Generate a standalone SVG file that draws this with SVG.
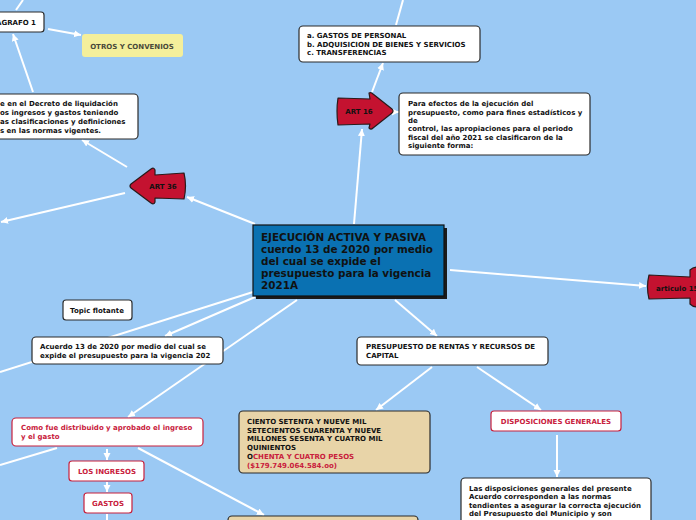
<svg xmlns="http://www.w3.org/2000/svg" width="696" height="520" viewBox="0 0 696 520">
<defs>
<marker id="ah" markerUnits="userSpaceOnUse" markerWidth="8" markerHeight="8" refX="7" refY="4" orient="auto"><path d="M0,0.5 L7,4 L0,7.5 z" fill="#fff"/></marker>
<style>
.c{stroke:#fff;stroke-width:2;fill:none}
.a{marker-end:url(#ah)}
.box{fill:#fff;stroke:#2b2b2b;stroke-width:1.2}
.rbox{fill:#fff;stroke:#c8203c;stroke-width:1.2}
.tan{fill:#e8d4a8;stroke:#2b2b2b;stroke-width:1.2}
.sh{fill:#555;opacity:0.5}
text{font-family:"DejaVu Sans","Verdana",sans-serif;font-weight:bold;font-size:7px;fill:#111}
.red{fill:#c8203c}
.arr{fill:#c41230;stroke:#2a1a1a;stroke-width:1.2;stroke-linejoin:round}
</style>
</defs>
<rect width="696" height="520" fill="#9bc9f4"/>
<g id="connectors">
<path class="c a" d="M255,224 L187,197"/>
<path class="c" d="M253,292 L0,372"/>
<path class="c a" d="M255,297 L165,336"/>
<path class="c a" d="M297,300 L128,417"/>
<path class="c a" d="M395,300 L437,336"/>
<path class="c a" d="M450,270 L646,286"/>
<path class="c a" d="M354,224 L362,129"/>
<path class="c a" d="M372,92 L383,63"/>
<path class="c" d="M396,25 L403,0"/>
<path class="c a" d="M393,112 L399,112"/>
<path class="c a" d="M127,167 L82,140"/>
<path class="c a" d="M125,193 L1,222"/>
<path class="c a" d="M33,92 L13,34"/>
<path class="c" d="M16,10 L23,0"/>
<path class="c a" d="M48,29 L81,35"/>
<path class="c" d="M57,448 L0,465"/>
<path class="c a" d="M107,449 L107,460"/>
<path class="c a" d="M107,482 L107,492"/>
<path class="c" d="M107,514 L107,520"/>
<path class="c a" d="M138,448 L264,515"/>
<path class="c a" d="M432,367 L376,410"/>
<path class="c a" d="M477,367 L541,410"/>
<path class="c a" d="M557,435 L557,477"/>
</g>
<g id="central">
<rect x="256" y="228" width="191" height="71" fill="#1a1a1a"/>
<rect x="253" y="225" width="191" height="71" fill="#0a71b2" stroke="#111" stroke-width="1.2"/>
<text x="261" y="241" style="font-size:10.4px">EJECUCIÓN ACTIVA Y PASIVA</text>
<text x="261" y="253" style="font-size:10.4px">cuerdo 13 de 2020 por medio</text>
<text x="261" y="265" style="font-size:10.4px">del cual se expide el</text>
<text x="261" y="277" style="font-size:10.4px">presupuesto para la vigencia</text>
<text x="261" y="289" style="font-size:10.4px">2021A</text>
</g>
<g id="paragrafo1">
<rect x="-10" y="12" width="54" height="20" rx="3" class="box"/>
<text x="36" y="25" text-anchor="end">PARAGRAFO 1</text>
</g>
<g id="otros">
<rect x="82" y="34" width="101" height="23" rx="3" fill="#f4ef9b"/>
<text x="132" y="49" text-anchor="middle" style="fill:#4a4a3a">OTROS Y CONVENIOS</text>
</g>
<g id="decreto">
<rect x="-10" y="94" width="148" height="45" rx="4" class="box"/>
<text x="0" y="106">e en el Decreto de liquidación</text>
<text x="0" y="115">os ingresos y gastos teniendo</text>
<text x="0" y="124">as clasificaciones y definiciones</text>
<text x="0" y="133">s en las normas vigentes.</text>
</g>
<g id="gastos-lista">
<rect x="299" y="26" width="181" height="36" rx="4" class="box"/>
<text x="307" y="38">a. GASTOS DE PERSONAL</text>
<text x="307" y="47">b. ADQUISICION DE BIENES Y SERVICIOS</text>
<text x="307" y="55">c. TRANSFERENCIAS</text>
</g>
<g id="art16">
<path class="arr" d="M338,98 L370,99 L369,93 Q371,92 373,94 L392,109 Q394,111 392,113 L373,128 Q371,130 369,128 L370,124 L338,125 Q336,111 338,98 z"/>
<text x="359" y="114" text-anchor="middle">ART 16</text>
</g>
<g id="para-efectos">
<rect x="399" y="93" width="191" height="62" rx="4" class="box"/>
<text x="408" y="106">Para efectos de la ejecución del</text>
<text x="408" y="115">presupuesto, como para fines estadísticos y</text>
<text x="408" y="123">de</text>
<text x="408" y="131">control, las apropiaciones para el periodo</text>
<text x="408" y="140">fiscal del año 2021 se clasificaron de la</text>
<text x="408" y="148">siguiente forma:</text>
</g>
<g id="art36">
<path class="arr" d="M184,173 L155,175 L155,170 Q154,167 151,169 L131,184 Q129,186 131,188 L151,203 Q154,205 155,202 L155,198 L184,199 Q187,186 184,173 z"/>
<text x="163" y="189" text-anchor="middle">ART 36</text>
</g>
<g id="articulo15">
<path class="arr" d="M649,275 L690,277 L690,270 Q693,267 697,267 L700,267 L700,307 L697,307 Q693,307 690,304 L690,298 L649,299 Q646,287 649,275 z"/>
<text x="656" y="291">articulo 15</text>
</g>
<g id="topic-flotante">
<rect x="63" y="300" width="69" height="20" rx="3" class="box"/>
<text x="97" y="313" text-anchor="middle">Topic flotante</text>
</g>
<g id="acuerdo">
<rect x="32" y="337" width="191" height="27" rx="4" class="box"/>
<text x="40" y="349">Acuerdo 13 de 2020 por medio del cual se</text>
<text x="40" y="358">expide el presupuesto para la vigencia 202</text>
</g>
<g id="como-fue">
<rect x="12" y="418" width="191" height="28" rx="4" class="rbox"/>
<text x="21" y="430" class="red">Como fue distribuido y aprobado el ingreso</text>
<text x="21" y="439" class="red">y el gasto</text>
</g>
<g id="los-ingresos">
<rect x="69" y="461" width="75" height="20" rx="3" class="rbox"/>
<text x="107" y="474" text-anchor="middle" class="red">LOS INGRESOS</text>
</g>
<g id="gastos">
<rect x="84" y="493" width="48" height="20" rx="3" class="rbox"/>
<text x="108" y="506" text-anchor="middle" class="red">GASTOS</text>
</g>
<g id="presupuesto-rentas">
<rect x="357" y="337" width="191" height="28" rx="4" class="box"/>
<text x="366" y="349">PRESUPUESTO DE RENTAS Y RECURSOS DE</text>
<text x="366" y="358">CAPITAL</text>
</g>
<g id="ciento">
<rect x="239" y="411" width="191" height="62" rx="4" class="tan"/>
<text x="247" y="424">CIENTO SETENTA Y NUEVE MIL</text>
<text x="247" y="433">SETECIENTOS CUARENTA Y NUEVE</text>
<text x="247" y="441">MILLONES SESENTA Y CUATRO MIL</text>
<text x="247" y="450">QUINIENTOS</text>
<text x="247" y="459">O<tspan class="red">CHENTA Y CUATRO PESOS</tspan></text>
<text x="247" y="468" class="red">($179.749.064.584.oo)</text>
</g>
<g id="bottom-tan">
<rect x="228" y="516" width="190" height="20" rx="4" class="tan"/>
</g>
<g id="disposiciones">
<rect x="491" y="411" width="130" height="20" rx="3" class="rbox"/>
<text x="556" y="424" text-anchor="middle" class="red">DISPOSICIONES GENERALES</text>
</g>
<g id="las-disposiciones">
<rect x="461" y="478" width="190" height="60" rx="4" class="box"/>
<text x="469" y="491">Las disposiciones generales del presente</text>
<text x="469" y="499">Acuerdo corresponden a las normas</text>
<text x="469" y="508">tendientes a asegurar la correcta ejecución</text>
<text x="469" y="516">del Presupuesto del Municipio y son</text>
</g>
</svg>
